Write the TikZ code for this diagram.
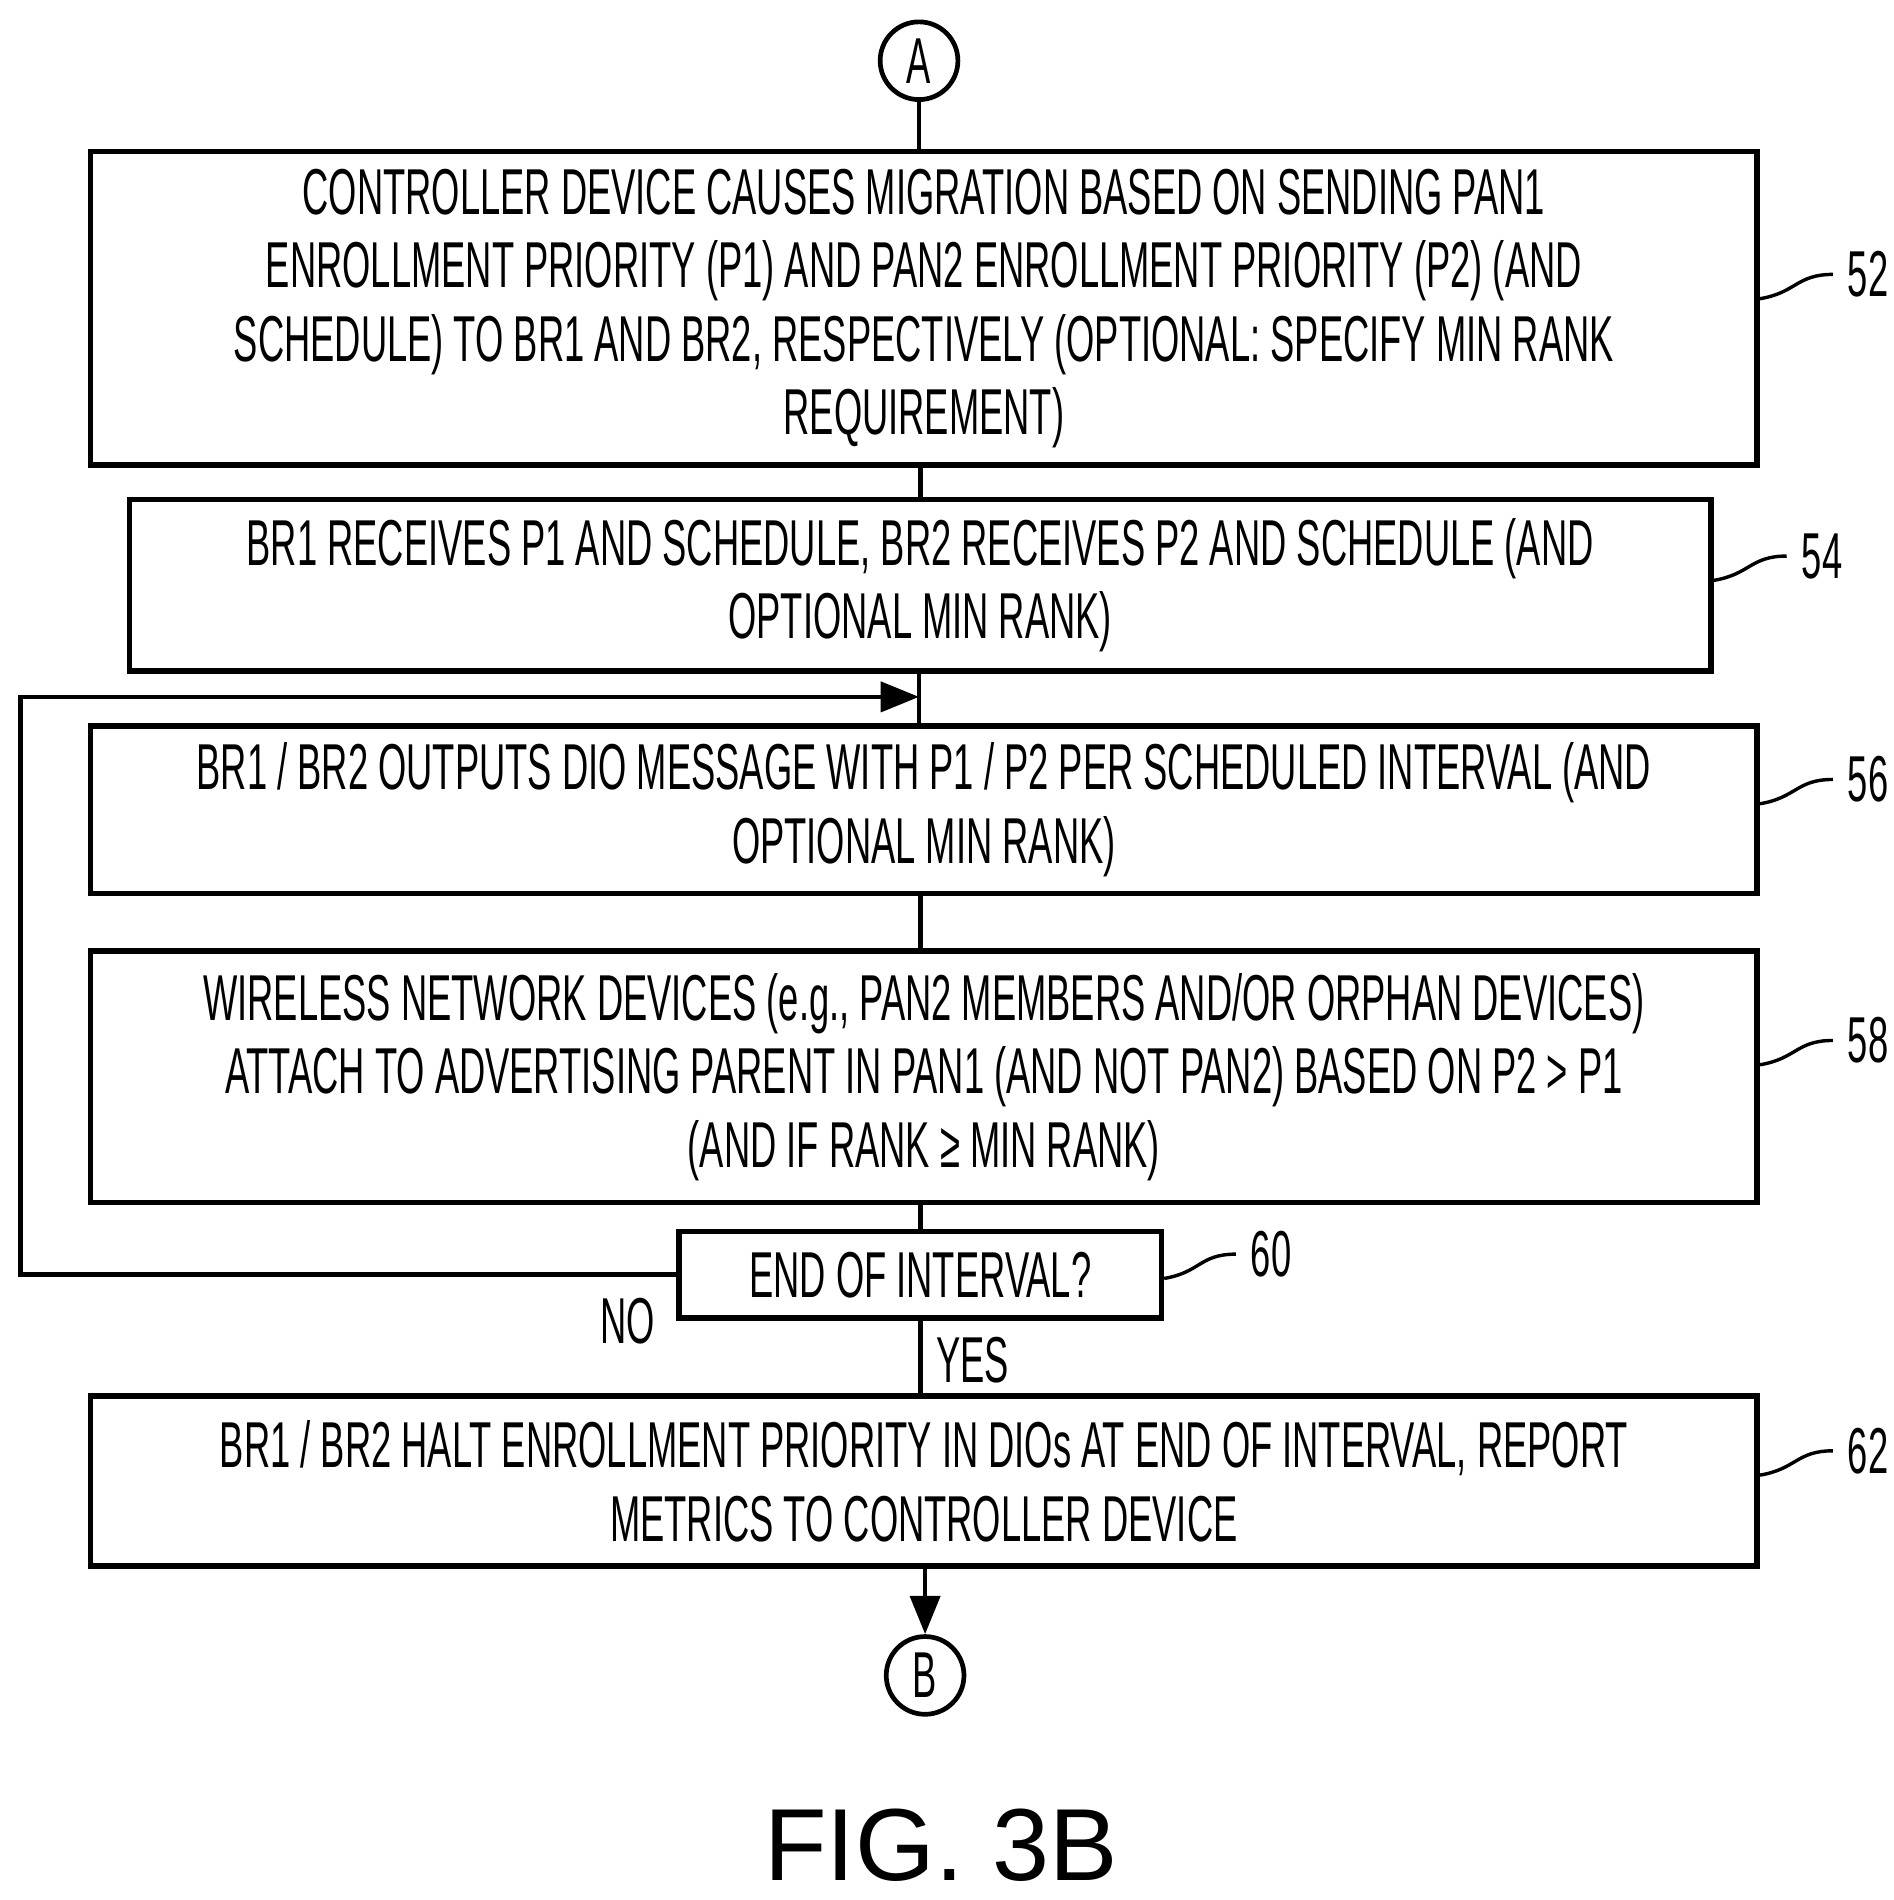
\documentclass[tikz,border=0pt]{standalone}
\usepackage{fontspec}
\setmainfont{Liberation Sans}
\newfontfamily\narrowfont[FakeStretch=0.56]{Liberation Sans}
\usetikzlibrary{positioning,arrows.meta}
\begin{document}
\begin{tikzpicture}[x=0.01cm,y=-0.01cm,
        procbox/.style={draw, line width=1.3pt, align=center, font=\narrowfont\fontsize{15.2}{17.2}\selectfont, inner sep=0pt},
        conn/.style={draw, circle, line width=1.1pt, minimum size=0.64cm, inner sep=0pt, font=\narrowfont\fontsize{15.2}{17}\selectfont},
        reflabel/.style={font=\narrowfont\fontsize{15.2}{17}\selectfont, anchor=west},
        flow/.style={line width=1.1pt},
        arr/.style={flow, -{Triangle[length=9pt,width=7pt]}}
        ]
        \useasboundingbox (0,0) rectangle (1560,1565);
        % connectors and steps
        \node [conn] (A) at (757,50) {A};
        \node [procbox, minimum width=13.72cm, minimum height=2.58cm] (b52) at (761,254)
          {CONTROLLER DEVICE CAUSES MIGRATION BASED ON SENDING PAN1\\
           ENROLLMENT PRIORITY (P1) AND PAN2 ENROLLMENT PRIORITY (P2) (AND\\
           SCHEDULE) TO BR1 AND BR2, RESPECTIVELY (OPTIONAL: SPECIFY MIN RANK\\
           REQUIREMENT)};
        \node [procbox, minimum width=13.02cm, minimum height=1.41cm] (b54) at (758,482)
          {BR1 RECEIVES P1 AND SCHEDULE, BR2 RECEIVES P2 AND SCHEDULE (AND\\
           OPTIONAL MIN RANK)};
        \node [procbox, minimum width=13.72cm, minimum height=1.38cm] (b56) at (761,667)
          {BR1 / BR2 OUTPUTS DIO MESSAGE WITH P1 / P2 PER SCHEDULED INTERVAL (AND\\
           OPTIONAL MIN RANK)};
        \node [procbox, minimum width=13.72cm, minimum height=2.07cm] (b58) at (761,887)
          {WIRELESS NETWORK DEVICES (e.g., PAN2 MEMBERS AND/OR ORPHAN DEVICES)\\
           ATTACH TO ADVERTISING PARENT IN PAN1 (AND NOT PAN2) BASED ON P2 > P1\\
           (AND IF RANK ≥ MIN RANK)};
        \node [procbox, minimum width=3.97cm, minimum height=0.71cm] (b60) at (758,1050)
          {END OF INTERVAL?};
        \node [procbox, minimum width=13.72cm, minimum height=1.40cm] (b62) at (761,1220)
          {BR1 / BR2 HALT ENROLLMENT PRIORITY IN DIOs AT END OF INTERVAL, REPORT\\
           METRICS TO CONTROLLER DEVICE};
        \node [conn] (B) at (762,1380) {B};
        % flow lines
        \coordinate (loopin) at (757,574);
        \draw [flow] (A) -- (A |- b52.north);
        \draw [flow] (b52.south -| b54) -- (b54.north);
        \draw [flow] (b54.south -| loopin) -- (loopin) -- (loopin |- b56.north);
        \draw [flow] (b56.south -| b60) -- (b58.north -| b60);
        \draw [flow] (b58.south -| b60) -- (b60.north);
        \draw [flow] (b60.south) -- (b62.north -| b60);
        \draw [arr] (b62.south -| B) -- (B);
        \draw [arr] (b60.west) -- (17,1050) -- (17,574) -- (loopin);
        \node [reflabel, anchor=center] (no) at (517,1088) {NO};
        \node [reflabel, anchor=center] (yes) at (801,1120) {YES};
        % reference numerals
        \foreach \n/\b/\y in {52/b52/226, 54/b54/458, 56/b56/642, 58/b58/857, 62/b62/1195}{
          \node [reflabel] (l\n) at ([xshift=0.6cm]\b.east |- 0,\y) {\n};
          \draw [line width=0.8pt] (l\n.west) .. controls +(-0.3cm,0) and +(0.3cm,0.05cm) .. ([yshift=-0.2cm]\b.east |- l\n);
        }
        \node [reflabel] (l60) at (1018,1033) {60};
        \draw [line width=0.8pt] (l60.west) .. controls +(-0.3cm,0) and +(0.3cm,0.05cm) .. ([yshift=-0.2cm]b60.east |- l60);
        \node [font=\fontsize{24}{28}\selectfont] (fig) at (775,1520) {FIG. 3B};
      \end{tikzpicture}
\end{document}
